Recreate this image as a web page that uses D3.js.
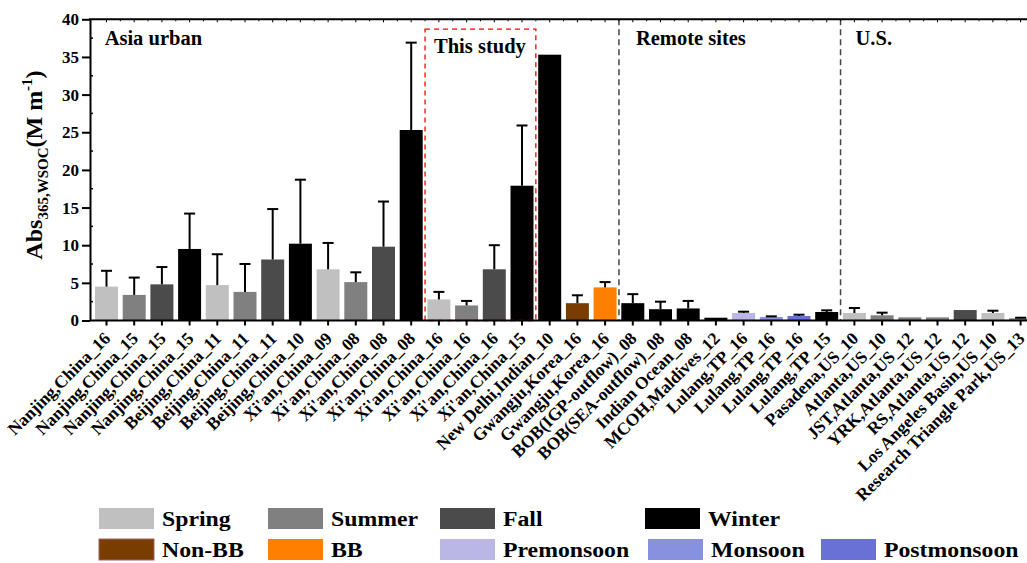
<!DOCTYPE html>
<html>
<head>
<meta charset="utf-8">
<script src="https://cdn.jsdelivr.net/npm/d3@7"></script>
<style>
  body { margin: 0; background: #fff; }
  svg text { font-family: "Liberation Serif", "Times New Roman", serif; font-weight: bold; fill: #000; }
</style>
</head>
<body>
<svg id="chart" width="1027" height="563"></svg>
<script>
// Site / campaign labels, one per bar
const sites = [
  "Nanjing,China_16", "Nanjing,China_15", "Nanjing,China_15", "Nanjing,China_15",
  "Beijing,China_11", "Beijing,China_11", "Beijing,China_11", "Beijing,China_10",
  "Xi'an,China_09", "Xi'an,China_08", "Xi'an,China_08", "Xi'an,China_08",
  "Xi'an,China_16", "Xi'an,China_16", "Xi'an,China_16", "Xi'an,China_15",
  "New Delhi,Indian_10", "Gwangju,Korea_16", "Gwangju,Korea_16",
  "BOB(IGP-outflow)_08", "BOB(SEA-outflow)_08", "Indian Ocean_08", "MCOH,Maldives_12",
  "Lulang,TP_16", "Lulang,TP_16", "Lulang,TP_16", "Lulang,TP_15",
  "Pasadena,US_10", "Atlanta,US_10", "JST,Atlanta,US_12", "YRK,Atlanta,US_12",
  "RS,Atlanta,US_12", "Los Angeles Basin,US_10", "Research Triangle Park,US_13"
];
// Sampling period of each bar
const periods = [
  "Spring", "Summer", "Fall", "Winter",
  "Spring", "Summer", "Fall", "Winter",
  "Spring", "Summer", "Fall", "Winter",
  "Spring", "Summer", "Fall", "Winter",
  "Winter", "Non-BB", "BB",
  "Winter", "Winter", "Winter", "Winter",
  "Premonsoon", "Monsoon", "Postmonsoon", "Winter",
  "Spring", "Summer", "Summer", "Summer",
  "Fall", "Spring", "Summer"
];
// Mean Abs365,WSOC (M m-1)
const absMean = [
  4.5, 3.4, 4.8, 9.5,
  4.7, 3.8, 8.1, 10.2,
  6.8, 5.1, 9.8, 25.3,
  2.8, 2.0, 6.8, 17.9,
  35.3, 2.3, 4.4,
  2.3, 1.5, 1.6, 0.37,
  1.0, 0.46, 0.6, 1.13,
  1.0, 0.69, 0.42, 0.42,
  1.39, 1.0, 0.29
];
// Standard deviation (upper error bar); 0 where none is drawn
const absSd = [
  2.1, 2.3, 2.3, 4.7,
  4.1, 3.7, 6.7, 8.5,
  3.5, 1.3, 6.0, 11.6,
  1.0, 0.6, 3.2, 8.0,
  0, 1.05, 0.7,
  1.2, 1.0, 1.0, 0,
  0.17, 0.09, 0.17, 0.22,
  0.66, 0.35, 0, 0,
  0, 0.3, 0.08
];
// Legend entries and fills
const periodNames = ["Spring", "Summer", "Fall", "Winter", "Non-BB", "BB", "Premonsoon", "Monsoon", "Postmonsoon"];
const periodColors = ["#c0c0c0", "#808080", "#4b4b4b", "#000000", "#7a3d00", "#ff8000", "#bab6e5", "#8791e0", "#6a71d6"];
const yTicks = [0, 5, 10, 15, 20, 25, 30, 35, 40];
const groupNames = ["Asia urban", "This study", "Remote sites", "U.S."];
// First bar index of each region block
const groupStarts = [0, 12, 19, 27];
const thisStudyEnd = 16;

const svg = d3.select("#chart");
const color = d3.scaleOrdinal().domain(periodNames).range(periodColors);

const step = 27.7;
const x0 = 92.65;
const x = d3.scaleBand()
  .domain(d3.range(sites.length))
  .range([x0, x0 + step * sites.length])
  .paddingInner(0.17)
  .paddingOuter(0.085);
const y = d3.scaleLinear().domain([0, 40]).range([320.5, 19.3]);
const axisX = 90;
const rightEdge = 1040;

// boundary between bar i-1 and bar i
const edge = i => x(0) - x.step() * x.paddingInner() / 2 + i * x.step();

// Region dividers
svg.append("g").selectAll("line")
  .data([groupStarts[2], groupStarts[3]])
  .join("line")
  .attr("x1", d => edge(d)).attr("x2", d => edge(d))
  .attr("y1", y(40)).attr("y2", y(0))
  .attr("stroke", "#444").attr("stroke-width", 1.5)
  .attr("stroke-dasharray", "6,4");

// Bars
svg.append("g").selectAll("rect")
  .data(absMean)
  .join("rect")
  .attr("x", (d, i) => x(i))
  .attr("width", x.bandwidth())
  .attr("y", d => y(d))
  .attr("height", d => y(0) - y(d))
  .attr("fill", (d, i) => color(periods[i]));

// Upper error bars
const eb = svg.append("g").attr("stroke", "#000").attr("stroke-width", 2);
absMean.forEach((m, i) => {
  if (!absSd[i]) return;
  const cx = x(i) + x.bandwidth() / 2;
  eb.append("line").attr("x1", cx).attr("x2", cx).attr("y1", y(m)).attr("y2", y(m + absSd[i]));
  eb.append("line").attr("x1", cx - 5.5).attr("x2", cx + 5.5).attr("y1", y(m + absSd[i])).attr("y2", y(m + absSd[i]));
});

// "This study" box
svg.append("rect")
  .attr("x", edge(groupStarts[1]))
  .attr("width", edge(thisStudyEnd) - edge(groupStarts[1]))
  .attr("y", y(38.7))
  .attr("height", y(0) - y(38.7))
  .attr("fill", "none")
  .attr("stroke", "#ff0000").attr("stroke-width", 1.3)
  .attr("stroke-dasharray", "5,4");

// Y axis
const yAxis = svg.append("g")
  .attr("transform", `translate(${axisX},0)`)
  .call(d3.axisLeft(y).tickValues(yTicks).tickSize(8).tickPadding(3).tickSizeOuter(0));
yAxis.select(".domain").attr("stroke-width", 2);
yAxis.selectAll(".tick line").attr("stroke-width", 2);
yAxis.selectAll(".tick text").attr("font-size", 17).attr("font-family", null);
// minor ticks inside
svg.append("g").selectAll("line")
  .data(d3.range(2.5, 40, 5))
  .join("line")
  .attr("x1", axisX).attr("x2", axisX + 3)
  .attr("y1", d => y(d)).attr("y2", d => y(d))
  .attr("stroke", "#000").attr("stroke-width", 1.5);

// X axis (bottom)
const xAxis = svg.append("g")
  .attr("transform", `translate(0,${y(0)})`)
  .call(d3.axisBottom(x).tickSize(5).tickSizeOuter(0).tickFormat(i => sites[i]));
xAxis.select(".domain").attr("d", `M${axisX},0H${rightEdge}`).attr("stroke-width", 2);
xAxis.selectAll(".tick line").attr("stroke-width", 2);
xAxis.selectAll(".tick text")
  .attr("font-size", 17.5).attr("font-family", null)
  .attr("text-anchor", "end")
  .attr("transform", "translate(-5,9) rotate(-45)")
  .attr("dx", 0).attr("dy", "0.35em");

// Top frame with small inward ticks
svg.append("line")
  .attr("x1", axisX - 1).attr("x2", rightEdge)
  .attr("y1", y(40)).attr("y2", y(40))
  .attr("stroke", "#000").attr("stroke-width", 2);
svg.append("g").selectAll("line")
  .data(d3.range(sites.length * 2))
  .join("line")
  .attr("x1", d => edge(0) + (d + 1) * x.step() / 2)
  .attr("x2", d => edge(0) + (d + 1) * x.step() / 2)
  .attr("y1", y(40)).attr("y2", d => y(40) + (d % 2 === 0 ? 3 : 2))
  .attr("stroke", "#000").attr("stroke-width", 1);

// Region titles
const titleOffsets = [12, 9, 17, 15];
svg.append("g").selectAll("text")
  .data(groupNames)
  .join("text")
  .attr("x", (d, i) => edge(groupStarts[i]) + titleOffsets[i])
  .attr("y", (d, i) => i === 1 ? 53 : 45)
  .attr("font-size", 20.5)
  .text(d => d);

// Y axis title
const yt = svg.append("text")
  .attr("transform", `translate(42,165) rotate(-90)`)
  .attr("text-anchor", "middle")
  .attr("font-size", 24);
yt.append("tspan").text("Abs");
yt.append("tspan").attr("font-size", 15).attr("dy", 6).text("365,WSOC");
yt.append("tspan").attr("dy", -6).text("(M m");
yt.append("tspan").attr("font-size", 15).attr("dy", -10).text("-1");
yt.append("tspan").attr("dy", 10).text(")");

// Legend
const legendPos = [
  [99, 508], [268, 508], [440, 508], [645, 508],
  [99, 539], [268, 539], [440, 539], [648, 539], [821, 539]
];
const lg = svg.append("g").selectAll("g")
  .data(periodNames)
  .join("g")
  .attr("transform", (d, i) => `translate(${legendPos[i][0]},${legendPos[i][1]})`);
lg.append("rect")
  .attr("width", 55).attr("height", 21)
  .attr("fill", d => color(d))
  .attr("stroke", d => d === "Non-BB" ? "#a0646a" : "none")
  .attr("stroke-width", 1);
lg.append("text")
  .attr("transform", "translate(63,18) scale(1.08,1)")
  .attr("font-size", 22)
  .text(d => d);
</script>
</body>
</html>
